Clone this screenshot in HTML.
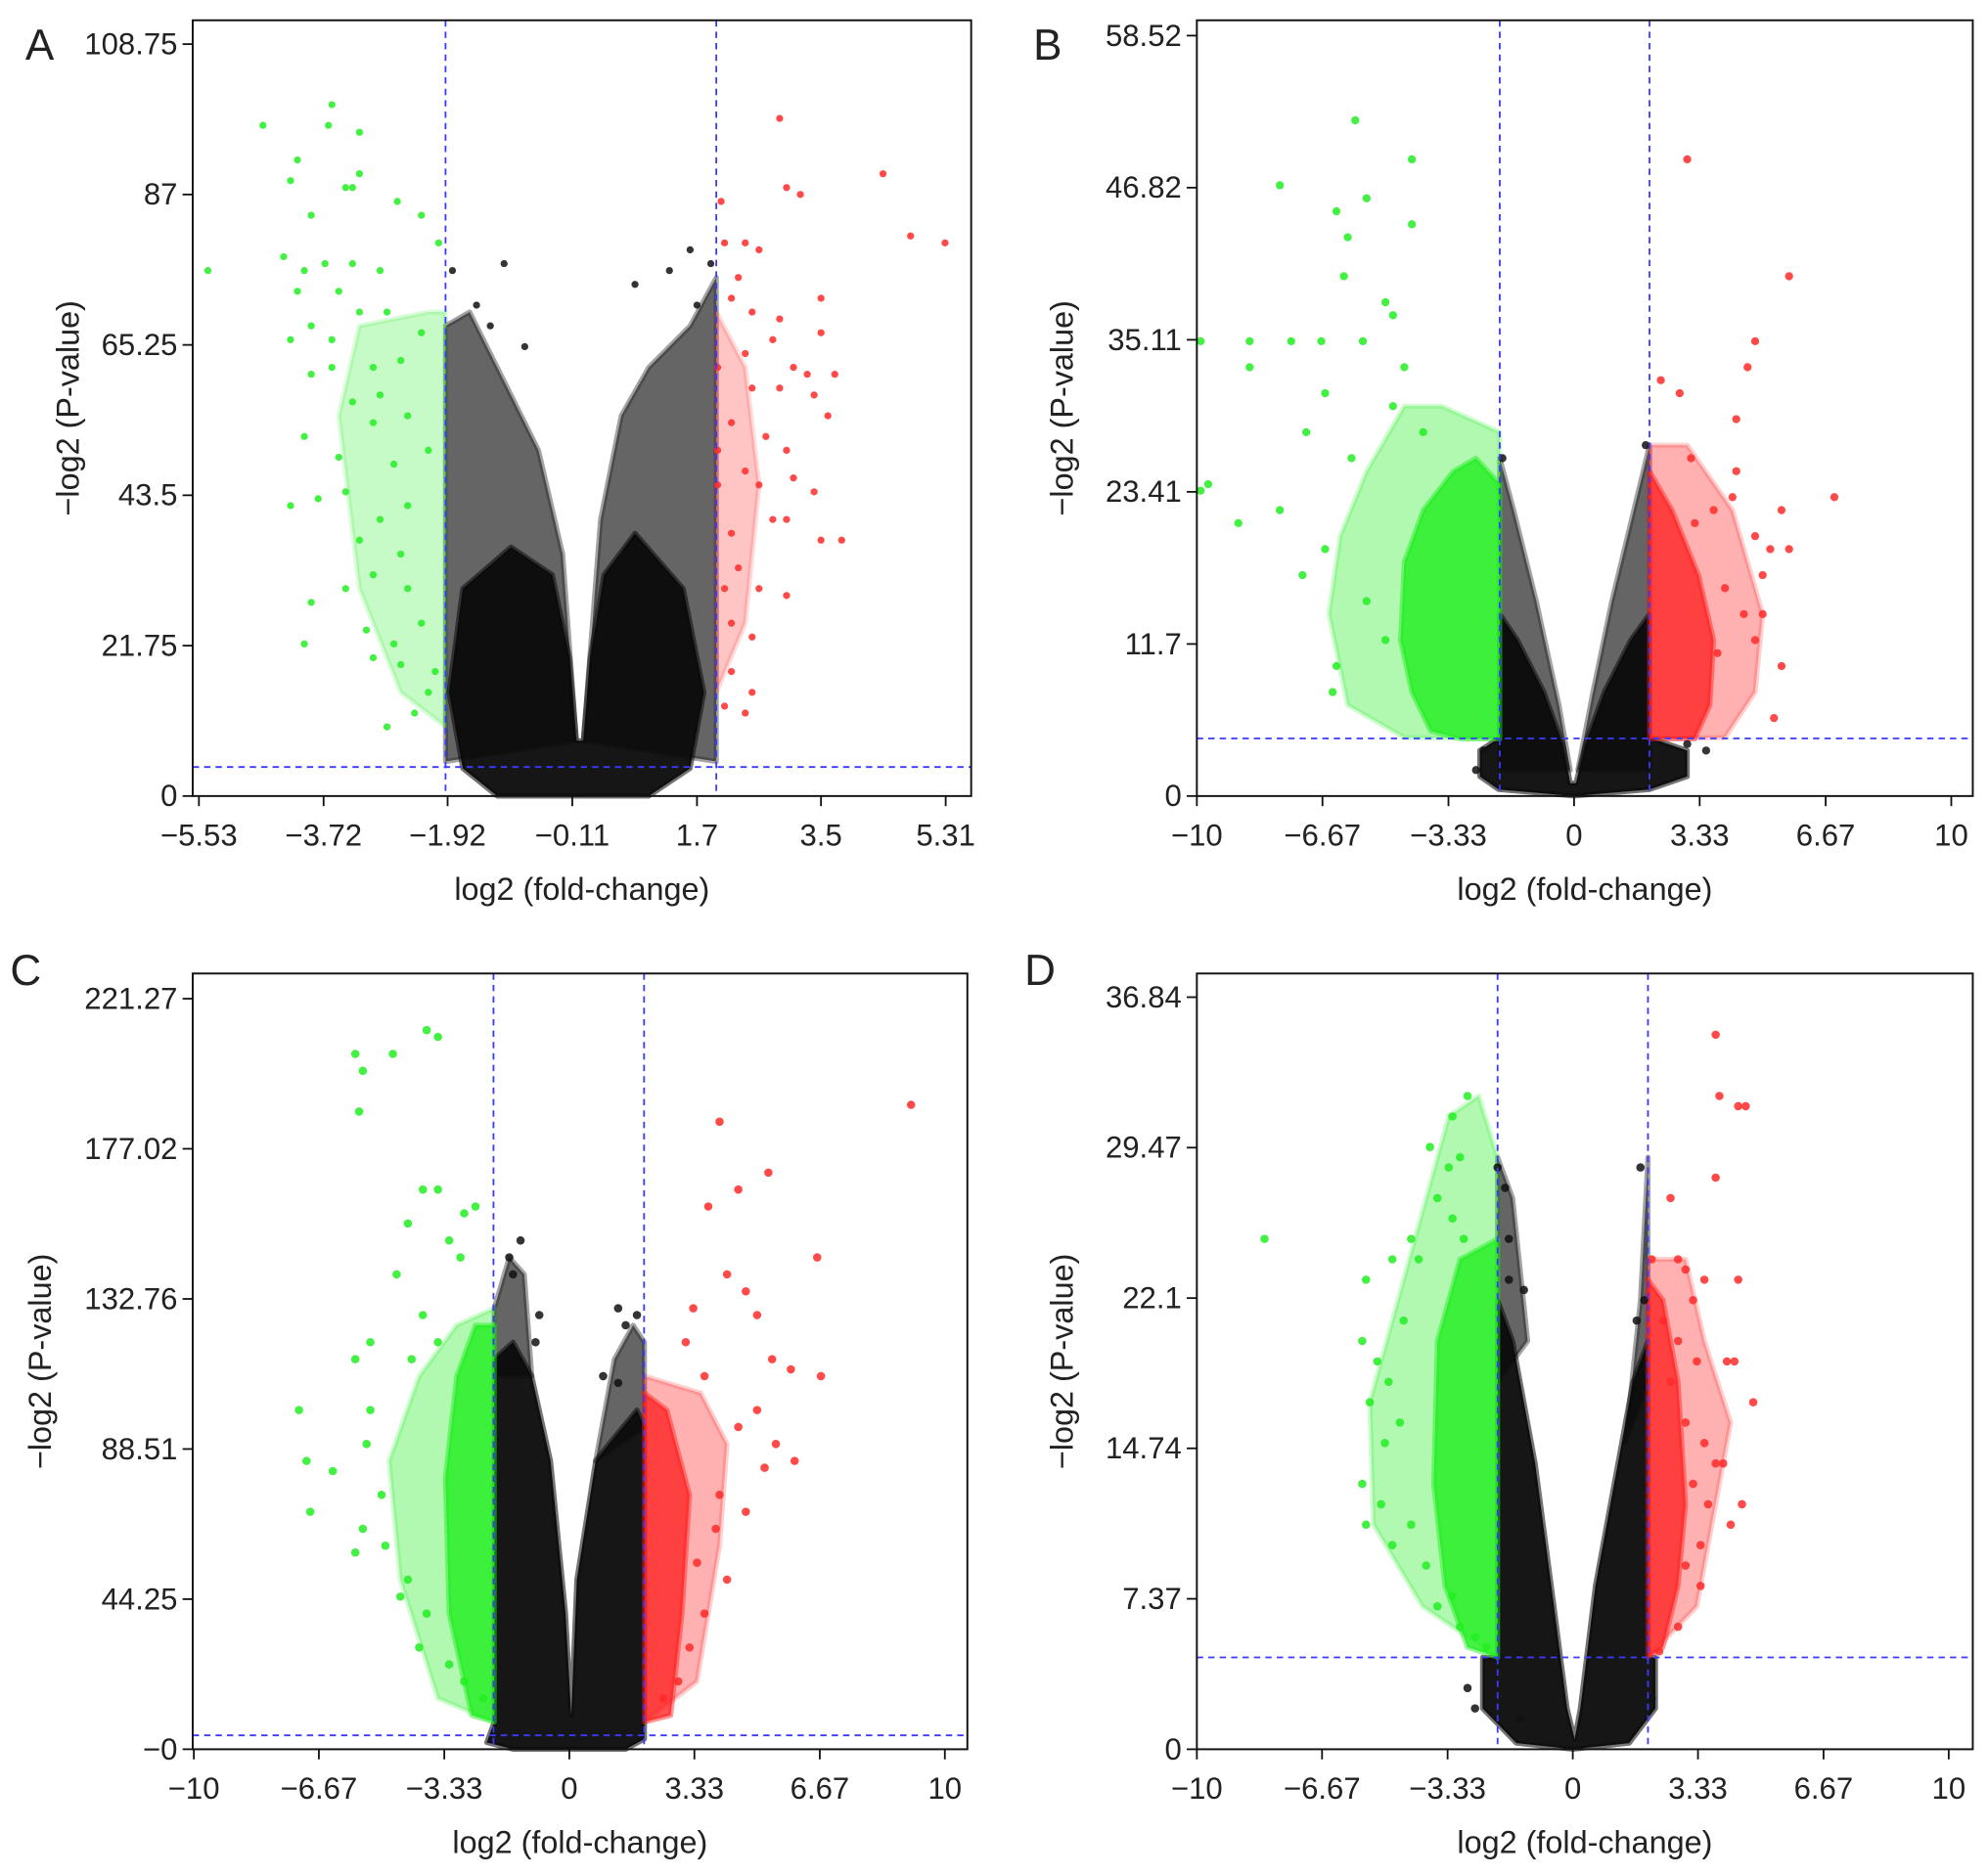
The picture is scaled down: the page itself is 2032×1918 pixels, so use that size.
<!DOCTYPE html>
<html><head><meta charset="utf-8"><style>
html,body{margin:0;padding:0;background:#fff}
svg{display:block}
text{font-family:"Liberation Sans",Arial,sans-serif;fill:#222}
</style></head><body>
<svg id="fig" width="2032" height="1918" viewBox="0 0 1568 1480" preserveAspectRatio="none" xmlns="http://www.w3.org/2000/svg"></svg>
<script>
// ---------- Panel A data ----------
const aXTicks=[-5.53,-3.72,-1.92,-0.11,1.7,3.5,5.31];
const aYTicks=[0,21.75,43.5,65.25,87,108.75];
const aThresh=[-1.95,1.98,4.2];
const aGreen=[[-5.4,76],[-4.6,97],[-3.6,100],[-3.65,97],[-3.2,96],[-4.1,92],[-4.2,89],[-3.4,88],[-3.2,90],[-3.3,88],[-2.65,86],[-3.9,84],[-2.3,84],[-4.3,78],[-4.0,76],[-3.7,77],[-3.3,77],[-2.9,76],[-4.1,73],[-3.5,73],[-3.9,68],[-3.2,70],[-2.8,70],[-4.2,66],[-3.6,66],[-3.9,61],[-3.6,62],[-3.0,62],[-2.6,63],[-2.3,67],[-3.3,57],[-2.9,58],[-4.0,52],[-3.0,54],[-2.5,55],[-3.5,49],[-2.7,48],[-2.2,50],[-4.2,42],[-3.8,43],[-3.4,44],[-2.9,40],[-2.5,42],[-3.2,37],[-2.6,35],[-3.0,32],[-3.9,28],[-3.4,30],[-2.5,30],[-4.0,22],[-3.1,24],[-2.7,22],[-2.3,25],[-3.0,20],[-2.6,19],[-2.2,15],[-2.4,12],[-2.8,10],[-2.1,18],[-2.05,80]];
const aRed=[[2.9,98],[4.4,90],[3.0,88],[3.2,87],[5.3,80],[4.8,81],[2.05,86],[2.1,80],[2.4,80],[2.6,79],[2.3,75],[2.2,72],[3.5,72],[2.5,70],[2.9,69],[2.8,66],[3.5,67],[2.0,62],[2.4,64],[3.1,62],[3.3,61],[3.7,61],[2.5,59],[2.9,59],[3.4,58],[3.6,55],[2.2,54],[2.7,52],[3.0,50],[2.0,50],[2.4,47],[3.1,46],[2.0,45],[2.6,45],[3.4,44],[2.8,40],[3.0,40],[2.2,38],[3.5,37],[3.8,37],[2.3,33],[2.1,30],[2.6,30],[3.0,29],[2.2,25],[2.5,23],[2.2,18],[2.5,15],[2.1,13],[2.4,12]];
const aBlack=[[-1.85,76],[-1.1,77],[-1.5,71],[-1.3,68],[-0.8,65],[0.8,74],[1.3,76],[1.6,79],[1.9,77],[1.7,71]];
const aBlackCore=[[[-1.2,0],[1.0,0],[1.6,4],[1.8,15],[1.5,30],[0.8,38],[0.35,32],[0.15,20],[0.05,8],[-0.05,8],[-0.15,20],[-0.4,32],[-1.0,36],[-1.7,30],[-1.9,15],[-1.7,4]]];
const aBlackHalo=[[[-1.95,5],[-1.95,68],[-1.6,70],[-1.2,62],[-0.6,50],[-0.25,35],[-0.05,8]],[[0.05,8],[0.3,40],[0.6,55],[1.0,62],[1.6,68],[1.98,75],[1.98,5]]];
const aGreenHalo=[[[-1.95,10],[-2.6,15],[-3.2,30],[-3.5,55],[-3.2,68],[-2.2,70],[-1.95,70]]];
const aRedHalo=[[[1.98,15],[2.4,25],[2.6,45],[2.4,62],[1.98,70]]];

// ---------- Panel B data ----------
const bXTicks=[-10,-6.67,-3.33,0,3.33,6.67,10];
const bYTicks=[0,11.7,23.41,35.11,46.82,58.52];
const bThresh=[-1.97,2.0,4.43];
const bGreen=[[-5.8,52],[-4.3,49],[-7.8,47],[-6.3,45],[-5.5,46],[-6.0,43],[-4.3,44],[-6.1,40],[-9.9,35],[-8.6,35],[-8.6,33],[-7.5,35],[-6.7,35],[-5.0,38],[-4.8,37],[-5.6,35],[-4.5,33],[-6.6,31],[-7.1,28],[-9.7,24],[-9.9,23.5],[-8.9,21],[-7.8,22],[-6.6,19],[-7.2,17],[-5.9,26],[-5.5,15],[-6.3,10],[-5.0,12],[-6.4,8],[-4.0,28],[-4.8,30]];
const bRed=[[3.0,49],[5.7,40],[2.3,32],[2.8,31],[4.8,35],[4.6,33],[4.3,29],[3.1,26],[4.3,25],[4.2,23],[5.5,22],[6.9,23],[4.8,20],[5.2,19],[5.0,17],[5.7,19],[4.0,16],[4.5,14],[5.0,14],[4.8,12],[3.8,11],[5.5,10],[5.3,6],[3.7,22],[3.2,21]];
const bBlack=[[3.5,3.5],[3.0,4],[-2.6,2],[-2.4,3.5],[-1.9,26],[1.9,27]];
const bBlackCore=[[[-2.5,1.5],[-2,0.5],[0,0],[2,0.5],[3.0,1.5],[3.0,3.5],[2.0,4.5],[2.0,14],[1.5,12],[0.8,8],[0.3,4],[0.05,1],[-0.1,1],[-0.3,4],[-0.8,8],[-1.5,12],[-1.97,14],[-1.97,4.5],[-2.5,3.5]]];
const bBlackHalo=[[[-1.97,2],[-1.97,26],[-1.6,22],[-1.0,15],[-0.4,7],[-0.1,2]],[[0.1,2],[0.5,8],[1.0,15],[1.5,21],[2.0,27],[2.0,2]]];
const bGreenCore=[[[-1.97,4.4],[-3.0,4.4],[-3.8,5],[-4.3,8],[-4.6,12],[-4.5,18],[-4.0,22],[-3.2,25],[-2.6,26],[-1.97,24]]];
const bGreenHalo=[[[-1.97,4.4],[-4.5,4.5],[-6,7],[-6.5,14],[-6.2,20],[-5.5,25],[-4.5,30],[-3.5,30],[-1.97,28]]];
const bRedCore=[[[2.0,4.4],[3.2,4.4],[3.6,7],[3.7,12],[3.3,17],[2.6,22],[2.0,25]]];
const bRedHalo=[[[2.0,4.4],[4.0,4.5],[4.8,8],[5.0,14],[4.2,22],[3.0,27],[2.0,27]]];

// ---------- Panel C data ----------
const cXTicks=[-10,-6.67,-3.33,0,3.33,6.67,10];
const cYTicks=[0,44.25,88.51,132.76,177.02,221.27];
const cThresh=[-2.02,1.99,4.1];
const cGreen=[[-5.5,200],[-5.7,205],[-4.7,205],[-3.5,210],[-3.8,212],[-5.6,188],[-3.5,165],[-2.5,160],[-2.8,158],[-4.3,155],[-3.9,165],[-3.2,150],[-2.9,145],[-4.6,140],[-3.9,128],[-3.5,120],[-5.3,120],[-5.7,115],[-4.2,115],[-7.2,100],[-7.0,85],[-6.3,82],[-5.3,100],[-5.4,90],[-6.9,70],[-5.0,75],[-4.9,60],[-5.5,65],[-5.7,58],[-4.3,50],[-4.5,45],[-3.8,40],[-4.0,30],[-3.2,25],[-2.8,20],[-2.3,15]];
const cRed=[[9.1,190],[4.0,185],[5.3,170],[4.5,165],[3.7,160],[6.6,145],[4.2,140],[4.7,135],[5.0,128],[3.3,130],[6.7,110],[5.4,115],[5.9,112],[5.0,100],[4.5,95],[3.6,110],[3.1,120],[5.5,90],[6.0,85],[5.2,83],[4.0,75],[4.7,70],[3.9,65],[3.4,55],[4.2,50],[3.6,40],[3.2,30],[2.9,20],[2.5,15]];
const cBlack=[[-1.6,145],[-1.5,140],[-1.3,150],[-0.8,128],[-0.9,120],[1.3,130],[1.5,125],[1.8,128],[0.9,110],[1.3,108]];
const cBlackCore=[[[-2.2,2],[-1.5,0],[1.5,0],[2.0,3],[2.0,95],[1.8,100],[1.2,92],[0.7,85],[0.2,50],[0.05,10],[-0.1,40],[-0.5,85],[-1.0,110],[-1.5,120],[-2.0,115],[-2.0,8]]];
const cBlackHalo=[[[-2,110],[-2,130],[-1.6,145],[-1.2,140],[-1.0,110]],[[0.7,85],[1.2,115],[1.7,125],[2,120],[2,95]]];
const cGreenCore=[[[-2,8],[-2.6,10],[-3.2,40],[-3.3,80],[-3.0,110],[-2.5,125],[-2,125]]];
const cGreenHalo=[[[-2,8],[-3.5,15],[-4.5,50],[-4.8,85],[-4.0,110],[-3,125],[-2,130]]];
const cRedCore=[[[2,8],[2.7,10],[3.0,40],[3.2,75],[2.6,100],[2,105]]];
const cRedHalo=[[[2,8],[3.4,20],[4.0,60],[4.2,90],[3.5,105],[2,110]]];

// ---------- Panel D data ----------
const dXTicks=[-10,-6.67,-3.33,0,3.33,6.67,10];
const dYTicks=[0,7.37,14.74,22.1,29.47,36.84];
const dThresh=[-2.0,2.0,4.5];
const dGreen=[[-2.8,32],[-3.2,31],[-3.8,29.5],[-3.3,28.5],[-3.0,29],[-3.6,27],[-3.2,26],[-2.9,25],[-8.2,25],[-4.3,25],[-4.8,24],[-4.1,24],[-5.5,23],[-4.5,21],[-5.6,20],[-5.2,19],[-4.9,18],[-5.4,17],[-4.6,16],[-5.0,15],[-5.6,13],[-5.1,12],[-5.5,11],[-4.3,11],[-4.8,10],[-3.9,9],[-3.2,7.5],[-3.6,7],[-3.0,6],[-2.6,5.5],[-2.3,5]];
const dRed=[[3.8,35],[3.9,32],[4.4,31.5],[4.6,31.5],[3.8,28],[2.6,27],[2.1,24],[2.8,24],[3.0,23.5],[3.5,23],[4.4,23],[3.2,22],[2.4,21],[2.8,20],[3.3,19],[4.1,19],[4.3,19],[2.6,18],[4.8,17],[3.0,16],[3.5,15],[3.8,14],[4.0,14],[3.2,13],[4.5,12],[3.6,12],[4.2,11],[3.4,10],[3.0,9],[3.4,8],[2.8,6],[2.3,4.8]];
const dBlack=[[-2.0,28.5],[-1.8,27.5],[-1.7,25],[-1.7,23],[-1.3,22.5],[1.8,28.5],[1.9,22],[1.7,21],[-2.8,3],[-2.6,2],[2.1,2.5],[-1.4,1.5]];
const dBlackCore=[[[-2.4,2],[-1.5,0.3],[0,0],[1.5,0.3],[2.2,2],[2.2,4.5],[2.0,4.5],[2.0,20],[1.6,18],[1.2,14],[0.6,8],[0.2,2],[0.05,0.5],[-0.15,2],[-0.5,7],[-1.0,14],[-1.6,20],[-2.0,22],[-2.0,4.5],[-2.4,4.5]]];
const dBlackHalo=[[[-2,18],[-2,29],[-1.6,27],[-1.2,20]],[[1.4,15],[1.8,22],[2.0,29],[2.0,18]]];
const dGreenCore=[[[-2,4.5],[-2.8,5],[-3.4,8],[-3.7,13],[-3.6,20],[-3.0,24],[-2,25]]];
const dGreenHalo=[[[-2,4.5],[-4,7],[-5.3,11],[-5.4,17],[-4.5,23],[-3.3,31],[-2.5,32],[-2,29]]];
const dRedCore=[[[2,4.5],[2.4,5],[2.8,8],[3.0,12],[2.8,18],[2.4,22],[2,23]]];
const dRedHalo=[[[2,4.5],[3.3,7],[3.8,12],[4.2,16],[3.5,20],[3.0,24],[2,24]]];

const NS="http://www.w3.org/2000/svg";
const svg=document.getElementById('fig');
function mk(tag,attrs,parent){const e=document.createElementNS(NS,tag);for(const k in attrs)e.setAttribute(k,attrs[k]);(parent||svg).appendChild(e);return e;}
function fmt(v){return v<0?'\u2212'+Math.abs(v):String(v);}

function panel(o){
  const g=mk('g',{});
  
  
  const X=v=>o.bx0+(v-o.xmin)/(o.xmax-o.xmin)*(o.bx1-o.bx0);
  const Y=v=>o.by1-(v-o.ymin)/(o.ymax-o.ymin)*(o.by1-o.by0);
  const poly=(sets,fill,op,name)=>{(sets||[]).forEach(p=>{
    const e=mk('polygon',{points:p.map(q=>X(q[0])+','+Y(q[1])).join(' '),fill:fill,'fill-opacity':op,'stroke':fill,'stroke-opacity':op*0.6,'stroke-width':4,'stroke-linejoin':'round'},g);
    
    
  });};
  poly(o.bh,'#2a2a2a',0.72,'nonsig-halo');
  poly(o.gh,'#33ee33',o.hop||0.38,'down-halo');
  poly(o.rh,'#ff3030',o.hop||0.38,'up-halo');
  poly(o.bc,'#0a0a0a',0.95,'nonsig-core');
  poly(o.gc,'#22ee22',0.82,'down-core');
  poly(o.rc,'#ff2020',0.78,'up-core');
  const pts=(arr,fill,name)=>arr.forEach(p=>{
    const c=mk('circle',{cx:X(p[0]),cy:Y(p[1]),r:o.r,fill:fill,'fill-opacity':0.85},g);
    
    
  });
  pts(o.black,'#111','nonsig-point');
  pts(o.green,'#22ee22','down-point');
  pts(o.red,'#ff2a2a','up-point');
  const dash={stroke:'#3a3aff','stroke-width':1.4,'stroke-dasharray':'5 4',fill:'none'};
  let l=mk('line',Object.assign({x1:X(o.th[0]),x2:X(o.th[0]),y1:o.by0,y2:o.by1},dash),g);
  
  
  l=mk('line',Object.assign({x1:X(o.th[1]),x2:X(o.th[1]),y1:o.by0,y2:o.by1},dash),g);
  
  
  l=mk('line',Object.assign({x1:o.bx0,x2:o.bx1,y1:Y(o.th[2]),y2:Y(o.th[2])},dash),g);
  
  
  const b=mk('rect',{x:o.bx0,y:o.by0,width:o.bx1-o.bx0,height:o.by1-o.by0,fill:'none',stroke:'#111','stroke-width':1.5},g);
  
  
  o.xt.forEach(v=>{
    const t=mk('line',{x1:X(v),x2:X(v),y1:o.by1,y2:o.by1+8,stroke:'#111','stroke-width':1.4},g);
    
    
    const s=mk('text',{x:X(v),y:o.by1+39,'text-anchor':'middle','font-size':24},g);
    s.textContent=fmt(v);
    
    
  });
  o.yt.forEach((v,i)=>{
    const t=mk('line',{x1:o.bx0-8,x2:o.bx0,y1:Y(v),y2:Y(v),stroke:'#111','stroke-width':1.4},g);
    
    
    const s=mk('text',{x:o.bx0-12,y:Y(v)+8,'text-anchor':'end','font-size':24},g);
    s.textContent=(i===0&&o.negZero)?'\u22120':fmt(v);
    
    
  });
  const xt=mk('text',{x:(o.bx0+o.bx1)/2,y:o.by1+82,'text-anchor':'middle','font-size':25},g);
  xt.textContent='log2 (fold-change)';
  
  
  const cy=(o.by0+o.by1)/2;
  const yt=mk('text',{x:o.ytx,y:cy,'text-anchor':'middle','font-size':25,transform:'rotate(-90 '+o.ytx+' '+cy+')'},g);
  yt.textContent='\u2212log2 (P-value)';
  
  
  const lt=mk('text',{x:o.lx,y:o.ly,'font-size':34},g);
  lt.textContent=o.id;
  
  
}

panel({id:'A',bx0:152,bx1:766,by0:16,by1:628,xmin:-5.62,xmax:5.68,ymin:0,ymax:112.2,xt:aXTicks,yt:aYTicks,th:aThresh,green:aGreen,red:aRed,black:aBlack,bc:aBlackCore,bh:aBlackHalo,gh:aGreenHalo,rh:aRedHalo,hop:0.28,r:2.8,ytx:62,lx:20,ly:47});
panel({id:'B',bx0:944,bx1:1556,by0:16,by1:628,xmin:-10,xmax:10.57,ymin:0,ymax:59.7,xt:bXTicks,yt:bYTicks,th:bThresh,green:bGreen,red:bRed,black:bBlack,bc:bBlackCore,bh:bBlackHalo,gc:bGreenCore,gh:bGreenHalo,rc:bRedCore,rh:bRedHalo,r:3.2,ytx:846,lx:815,ly:47});
panel({id:'C',bx0:152,bx1:763,by0:768,by1:1380,xmin:-10.03,xmax:10.6,ymin:0,ymax:228.7,xt:cXTicks,yt:cYTicks,th:cThresh,green:cGreen,red:cRed,black:cBlack,bc:cBlackCore,bh:cBlackHalo,gc:cGreenCore,gh:cGreenHalo,rc:cRedCore,rh:cRedHalo,r:3.3,ytx:40,lx:8,ly:777,negZero:true});
panel({id:'D',bx0:944,bx1:1556,by0:768,by1:1380,xmin:-10,xmax:10.64,ymin:0,ymax:38,xt:dXTicks,yt:dYTicks,th:dThresh,green:dGreen,red:dRed,black:dBlack,bc:dBlackCore,bh:dBlackHalo,gc:dGreenCore,gh:dGreenHalo,rc:dRedCore,rh:dRedHalo,r:3.3,ytx:846,lx:808,ly:777});
</script>
</body></html>
